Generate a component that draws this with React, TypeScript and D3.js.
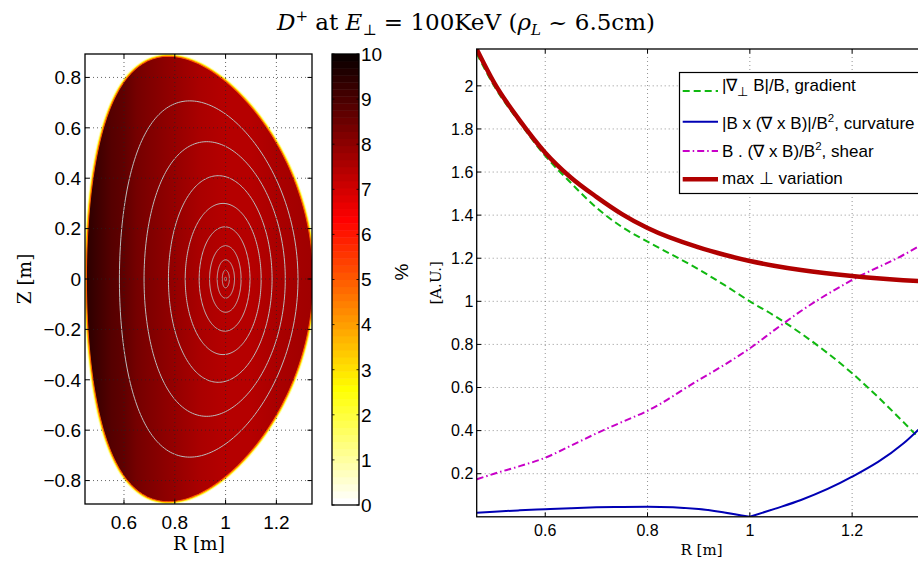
import React from "react";
import * as d3 from "d3";

// plasma boundary shape (m): centre, minor radius, elongation, triangularity, squareness
const edgeR0 = 0.8985;
const edgeA = 0.4465;
const edgeKappa = 1.98;
const edgeDelta = 0.28;
const edgeSquare = 0.0;

// flux surfaces: inner / outer R at Z=0, half height, R of the top point
const surfIn = [0.582, 0.679, 0.775, 0.841, 0.896, 0.937, 0.967, 0.987, 0.997];
const surfOut = [1.285, 1.235, 1.183, 1.14, 1.096, 1.061, 1.035, 1.015, 1.003];
const surfH = [0.707, 0.545, 0.41, 0.3, 0.207, 0.132, 0.076, 0.035, 0.008];
const surfTopR = [0.859, 0.926, 0.971, 0.99, 0.997, 1.0, 1.0, 1.0, 1.0];

// % variation across the section (along R)
const fillR = [0.452, 0.5, 0.55, 0.6, 0.65, 0.7, 0.8, 0.9, 1.0, 1.1, 1.2, 1.345];
const fillPct = [9.4, 9.2, 8.9, 8.6, 8.35, 8.15, 7.85, 7.55, 7.35, 7.4, 7.55, 7.7];

// right panel
const radius = [0.466, 0.5, 0.55, 0.6, 0.65, 0.7, 0.75, 0.8, 0.9, 0.95, 1.0, 1.05, 1.1, 1.2, 1.3, 1.345];
const gradient = [2.15, 2.0, 1.83, 1.675, 1.55, 1.435, 1.345, 1.277, 1.148, 1.076, 1.0, 0.93, 0.851, 0.666, 0.44, 0.33];
const curvature = [0.019, 0.024, 0.03, 0.035, 0.04, 0.044, 0.046, 0.047, 0.036, 0.02, 0.0, 0.038, 0.078, 0.186, 0.34, 0.44];
const shear = [0.174, 0.2, 0.235, 0.274, 0.33, 0.387, 0.44, 0.492, 0.635, 0.705, 0.782, 0.87, 0.955, 1.099, 1.215, 1.275];
const maxVar = [2.17, 2.015, 1.84, 1.69, 1.575, 1.485, 1.405, 1.34, 1.25, 1.216, 1.187, 1.164, 1.145, 1.117, 1.098, 1.092];

const leftXTicks = [0.6, 0.8, 1, 1.2];
const leftYTicks = [-0.8, -0.6, -0.4, -0.2, 0, 0.2, 0.4, 0.6, 0.8];
const cbTicks = [0, 1, 2, 3, 4, 5, 6, 7, 8, 9, 10];
const rightXTicks = [0.6, 0.8, 1, 1.2];
const rightYTicks = [0.2, 0.4, 0.6, 0.8, 1, 1.2, 1.4, 1.6, 1.8, 2];

const SANS = "Liberation Sans, Arial, sans-serif";
const SERIF = "DejaVu Serif, serif";

// MATLAB hot(64), index 1..64
function hot(i: number) {
  const r = Math.min(1, i / 24);
  const g = Math.max(0, Math.min(1, (i - 24) / 24));
  const b = Math.max(0, Math.min(1, (i - 48) / 16));
  return d3.rgb(r * 255, g * 255, b * 255).formatHex();
}
// flipud(hot) over 0..10 %
function pctColor(v: number) {
  const j = Math.max(1, Math.min(64, Math.floor((v / 10) * 64) + 1));
  return hot(65 - j);
}
const fmt = (v: number) => {
  const s = String(+v.toFixed(1));
  return v < 0 ? "\u2212" + s.slice(1) : s;
};

// D-shaped ring (R, Z)
function dShape(rc: number, a: number, kap: number, del: number, sq: number): [number, number][] {
  return d3.range(0, 240).map((n) => {
    const th = (n / 240) * 2 * Math.PI;
    return [rc + a * Math.cos(th + del * Math.sin(th)), kap * a * Math.sin(th + sq * Math.sin(2 * th))];
  });
}

export default function App() {
  // left panel scales
  const lx = d3.scaleLinear().domain([0.4465, 1.3402]).range([85, 312]);
  const ly = d3.scaleLinear().domain([-0.893, 0.893]).range([504, 54]);
  const cy = d3.scaleLinear().domain([0, 10]).range([505, 54]);
  // right panel scales
  const rx = d3.scaleLinear().domain([0.466, 1.345]).range([476.7, 926.3]);
  const ry = d3.scaleLinear().domain([0, 2.171]).range([516.8, 49]);

  const ring = d3
    .line<[number, number]>()
    .x((d) => lx(d[0]))
    .y((d) => ly(d[1]))
    .curve(d3.curveLinearClosed);

  const edgePath = ring(dShape(edgeR0, edgeA, edgeKappa, edgeDelta, edgeSquare)) as string;

  const surfPaths = surfIn.map((rin, k) => {
    const rc = (rin + surfOut[k]) / 2;
    const a = (surfOut[k] - rin) / 2;
    const del = Math.asin(Math.max(-1, Math.min(1, (rc - surfTopR[k]) / a)));
    return ring(dShape(rc, a, surfH[k] / a, del, 0)) as string;
  });

  const x0 = lx.range()[0], x1 = lx.range()[1], y0 = ly.range()[1], y1 = ly.range()[0];
  const rx0 = 476.7, rx1 = 926.3, ry0 = 49, ry1 = 516.8;

  const seriesLine = (vals: number[], idx?: number[]) => {
    const ii = idx || radius.map((_, i) => i);
    return d3
      .line<number>()
      .x((i) => rx(radius[i]))
      .y((i) => ry(vals[i]))
      .curve(d3.curveMonotoneX)(ii) as string;
  };
  const cusp = radius.indexOf(1.0);
  const idxA = d3.range(0, cusp + 1);
  const idxB = d3.range(cusp, radius.length);

  const cells = d3.range(1, 65);

  return (
    <svg width={918} height={565} style={{ position: "absolute", left: 0, top: 0, background: "#fff" }}>
      <defs>
        <clipPath id="clipL">
          <rect x={x0} y={y0} width={x1 - x0} height={y1 - y0} />
        </clipPath>
        <clipPath id="clipR">
          <rect x={rx0} y={ry0} width={rx1 - rx0} height={ry1 - ry0} />
        </clipPath>
        <linearGradient id="pctFill" gradientUnits="userSpaceOnUse" x1={lx(fillR[0])} x2={lx(fillR[fillR.length - 1])} y1={0} y2={0}>
          {fillR.map((r, i) => (
            <stop key={i} offset={(r - fillR[0]) / (fillR[fillR.length - 1] - fillR[0])} stopColor={pctColor(fillPct[i])} />
          ))}
        </linearGradient>
      </defs>

      {/* title */}
      <text x={466} y={30} textAnchor="middle" fontFamily={SERIF} fontSize={23}>
        <tspan fontStyle="italic">D</tspan>
        <tspan dy={-9} fontSize={15}>+</tspan>
        <tspan dy={9}> at </tspan>
        <tspan fontStyle="italic">E</tspan>
        <tspan dy={5} fontSize={15}>⊥</tspan>
        <tspan dy={-5}> = 100KeV (</tspan>
        <tspan fontStyle="italic">ρ</tspan>
        <tspan dy={5} fontSize={15} fontStyle="italic">L</tspan>
        <tspan dy={-5}> ~ 6.5cm)</tspan>
      </text>

      {/* ---------- left panel ---------- */}
      <g clipPath="url(#clipL)">
        <path d={edgePath} fill="none" stroke="#ffffb0" strokeWidth={5} />
        <path d={edgePath} fill="none" stroke="#ffe400" strokeWidth={3} />
        <path d={edgePath} fill="url(#pctFill)" stroke="#ff5a00" strokeWidth={1.1} />
        {surfPaths.map((d, i) => (
          <path key={i} d={d} fill="none" stroke="#bcbcbc" strokeWidth={1} />
        ))}
        {leftXTicks.map((t) => (
          <line key={"gx" + t} x1={lx(t)} x2={lx(t)} y1={y0} y2={y1} stroke="#222" strokeWidth={0.7} strokeDasharray="1,3" />
        ))}
        {leftYTicks.map((t) => (
          <line key={"gy" + t} x1={x0} x2={x1} y1={ly(t)} y2={ly(t)} stroke="#222" strokeWidth={0.7} strokeDasharray="1,3" />
        ))}
      </g>
      {leftXTicks.map((t) => (
        <g key={"tx" + t}>
          <line x1={lx(t)} x2={lx(t)} y1={y1} y2={y1 - 4.5} stroke="#000" />
          <line x1={lx(t)} x2={lx(t)} y1={y0} y2={y0 + 4.5} stroke="#000" />
          <text x={lx(t)} y={528.5} textAnchor="middle" fontFamily={SANS} fontSize={19}>{fmt(t)}</text>
        </g>
      ))}
      {leftYTicks.map((t) => (
        <g key={"ty" + t}>
          <line x1={x0} x2={x0 + 4.5} y1={ly(t)} y2={ly(t)} stroke="#000" />
          <line x1={x1} x2={x1 - 4.5} y1={ly(t)} y2={ly(t)} stroke="#000" />
          <text x={81} y={ly(t) + 6.8} textAnchor="end" fontFamily={SANS} fontSize={19}>{fmt(t)}</text>
        </g>
      ))}
      <rect x={x0} y={y0} width={x1 - x0} height={y1 - y0} fill="none" stroke="#000" strokeWidth={1.3} />
      <text x={199} y={550} textAnchor="middle" fontFamily={SERIF} fontSize={18.5}>R [m]</text>
      <text transform={`translate(31,${(y0 + y1) / 2}) rotate(-90)`} textAnchor="middle" fontFamily={SERIF} fontSize={18.5}>Z [m]</text>

      {/* colorbar */}
      {cells.map((j) => (
        <rect key={j} x={332} y={cy((j / 64) * 10)} width={27} height={cy(((j - 1) / 64) * 10) - cy((j / 64) * 10) + 0.5} fill={hot(65 - j)} />
      ))}
      {cbTicks.map((t) => (
        <g key={"cb" + t}>
          <line x1={332} x2={334.5} y1={cy(t)} y2={cy(t)} stroke="#000" strokeWidth={0.8} />
          <line x1={359} x2={356.5} y1={cy(t)} y2={cy(t)} stroke="#000" strokeWidth={0.8} />
          <text x={361} y={cy(t) + 6.8} fontFamily={SANS} fontSize={19}>{t}</text>
        </g>
      ))}
      <rect x={332} y={54} width={27} height={451} fill="none" stroke="#000" strokeWidth={1.3} />
      <text transform="translate(408,272) rotate(-90)" textAnchor="middle" fontFamily={SANS} fontSize={19}>%</text>

      {/* ---------- right panel ---------- */}
      <g>
        {rightXTicks.map((t) => (
          <line key={"rgx" + t} x1={rx(t)} x2={rx(t)} y1={ry0} y2={ry1} stroke="#777" strokeWidth={0.8} strokeDasharray="1,3" />
        ))}
        {rightYTicks.map((t) => (
          <line key={"rgy" + t} x1={rx0} x2={rx1} y1={ry(t)} y2={ry(t)} stroke="#777" strokeWidth={0.8} strokeDasharray="1,3" />
        ))}
      </g>
      <g clipPath="url(#clipR)" fill="none">
        <path d={seriesLine(gradient)} stroke="#10b810" strokeWidth={2} strokeDasharray="7,4" />
        <path d={seriesLine(curvature, idxA)} stroke="#0000b4" strokeWidth={2} />
        <path d={seriesLine(curvature, idxB)} stroke="#0000b4" strokeWidth={2} />
        <path d={seriesLine(shear)} stroke="#c800c8" strokeWidth={2} strokeDasharray="7,3,1.5,3" />
        <path d={seriesLine(maxVar)} stroke="#b00000" strokeWidth={4.5} />
      </g>
      {rightXTicks.map((t) => (
        <g key={"rtx" + t}>
          <line x1={rx(t)} x2={rx(t)} y1={ry1} y2={ry1 - 4.5} stroke="#000" />
          <line x1={rx(t)} x2={rx(t)} y1={ry0} y2={ry0 + 4.5} stroke="#000" />
          <text x={rx(t)} y={536} textAnchor="middle" fontFamily={SANS} fontSize={16}>{fmt(t)}</text>
        </g>
      ))}
      {rightYTicks.map((t) => (
        <g key={"rty" + t}>
          <line x1={rx0} x2={rx0 + 4.5} y1={ry(t)} y2={ry(t)} stroke="#000" />
          <text x={473.3} y={ry(t) + 5.7} textAnchor="end" fontFamily={SANS} fontSize={16}>{fmt(t)}</text>
        </g>
      ))}
      <rect x={rx0} y={ry0} width={rx1 - rx0} height={ry1 - ry0} fill="none" stroke="#000" strokeWidth={1.3} />
      <text x={(rx0 + rx1) / 2} y={555} textAnchor="middle" fontFamily={SERIF} fontSize={15}>R [m]</text>
      <text transform={`translate(441,${(ry0 + ry1) / 2}) rotate(-90)`} textAnchor="middle" fontFamily={SERIF} fontSize={15}>[A.U.]</text>

      {/* legend */}
      <rect x={679.5} y={72.5} width={250} height={121} fill="#fff" stroke="#000" strokeWidth={1.2} />
      <line x1={682.7} x2={718} y1={91} y2={91} stroke="#10b810" strokeWidth={2} strokeDasharray="7,4" />
      <line x1={682.7} x2={718} y1={121.7} y2={121.7} stroke="#0000b4" strokeWidth={2} />
      <line x1={682.7} x2={718} y1={151} y2={151} stroke="#c800c8" strokeWidth={2} strokeDasharray="7,3,1.5,3" />
      <line x1={682.7} x2={718} y1={179.3} y2={179.3} stroke="#b00000" strokeWidth={4.5} />
      <g fontFamily={SANS} fontSize={17}>
        <text x={722} y={90.7}>
          |∇<tspan dy={5} fontSize={12.5}>⊥</tspan>
          <tspan dy={-5}> B|/B, gradient</tspan>
        </text>
        <text x={722} y={129.3}>
          |B x (∇ x B)|/B<tspan dy={-7} fontSize={11.5}>2</tspan>
          <tspan dy={7}>, curvature</tspan>
        </text>
        <text x={722} y={157.3}>
          B . (∇ x B)/B<tspan dy={-7} fontSize={11.5}>2</tspan>
          <tspan dy={7}>, shear</tspan>
        </text>
        <text x={722} y={184}>max ⊥ variation</text>
      </g>
    </svg>
  );
}
